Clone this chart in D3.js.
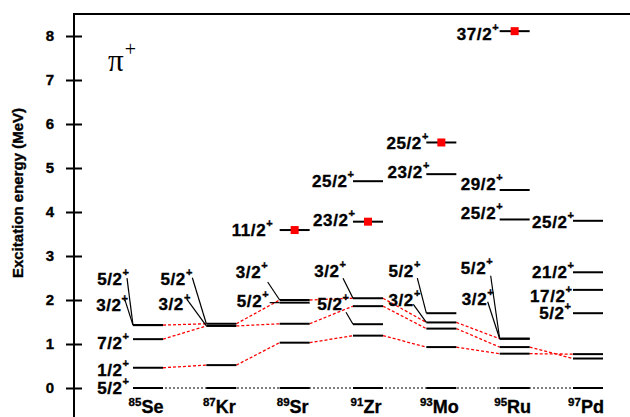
<!DOCTYPE html>
<html>
<head>
<meta charset="utf-8">
<script src="https://cdn.jsdelivr.net/npm/d3@7"></script>
<style>
  body { margin: 0; background: #fff; }
  text { font-family: 'Liberation Sans', Arial, sans-serif; font-weight: bold; stroke: #000; stroke-width: 0.35px; }
</style>
</head>
<body>
<div id="chart"></div>
<script>
// nuclei along the x axis
const nuclei = ['85Se', '87Kr', '89Sr', '91Zr', '93Mo', '95Ru', '97Pd'];
const massNumbers = ['85', '87', '89', '91', '93', '95', '97'];
const elements = ['Se', 'Kr', 'Sr', 'Zr', 'Mo', 'Ru', 'Pd'];

// levels: [excitation energy (MeV), spin label or null]
const levelsSe85 = [[0, '5/2'], [0.46, '1/2'], [1.11, '7/2'], [1.43, '3/2'], [1.43, '5/2']];
const levelsKr87 = [[0, null], [0.52, null], [1.41, '3/2'], [1.46, '5/2']];
const levelsSr89 = [[0, null], [1.03, null], [1.46, null], [1.94, '5/2'], [2.0, '3/2'], [3.59, '11/2']];
const levelsZr91 = [[0, null], [1.19, null], [1.45, '5/2'], [1.86, null], [2.04, '3/2'], [3.78, '23/2'], [4.7, '25/2']];
const levelsMo93 = [[0, null], [0.93, null], [1.35, null], [1.49, '3/2'], [1.7, '5/2'], [4.86, '23/2'], [5.58, '25/2']];
const levelsRu95 = [[0, null], [0.78, null], [0.93, null], [1.12, '3/2'], [1.12, '5/2'], [3.83, '25/2'], [4.5, '29/2'], [8.11, '37/2']];
const levelsPd97 = [[0, null], [0.67, null], [0.77, null], [1.7, '5/2'], [2.23, '17/2'], [2.63, '21/2'], [3.8, '25/2']];

// isomeric states (red squares)
const isomers = [['89Sr', 3.59], ['91Zr', 3.78], ['93Mo', 5.58], ['95Ru', 8.11]];

// systematics links (red dashed): [from, E, to, E]
const links = [
  ['85Se', 0.46, '87Kr', 0.52],
  ['85Se', 1.11, '87Kr', 1.41],
  ['85Se', 1.43, '87Kr', 1.46],
  ['87Kr', 0.52, '89Sr', 1.03],
  ['87Kr', 1.41, '89Sr', 1.46],
  ['87Kr', 1.46, '89Sr', 2.0],
  ['89Sr', 1.03, '91Zr', 1.19],
  ['89Sr', 1.46, '91Zr', 1.86],
  ['89Sr', 2.0, '91Zr', 2.04],
  ['91Zr', 1.19, '93Mo', 0.93],
  ['91Zr', 1.86, '93Mo', 1.35],
  ['91Zr', 2.04, '93Mo', 1.49],
  ['93Mo', 0.93, '95Ru', 0.78],
  ['93Mo', 1.35, '95Ru', 0.93],
  ['93Mo', 1.49, '95Ru', 1.12],
  ['95Ru', 0.78, '97Pd', 0.77],
  ['95Ru', 0.93, '97Pd', 0.67]
];

const yTicks = [0, 1, 2, 3, 4, 5, 6, 7, 8];

// label placement (px): [dx from level left end, dy from level, leader start dx, leader start dy]
const labelPlace = {
  '85Se 5/2 1.43': [-4, -40, -6, -47],
  '85Se 3/2 1.43': [-5, -14, -8, -25],
  '85Se 7/2 1.11': [-4, 10],
  '85Se 1/2 0.46': [-4, 8],
  '85Se 5/2 0': [-4, 5.5],
  '87Kr 5/2 1.46': [-14, -39, -14, -46],
  '87Kr 3/2 1.41': [-16, -16, -19, -26],
  '89Sr 3/2 2': [-12, -22, -12, -18],
  '89Sr 5/2 1.94': [-11, 4, -10, 0],
  '89Sr 11/2 3.59': [-7, 6],
  '91Zr 3/2 2.04': [-7, -21, -10, -20],
  '91Zr 5/2 1.45': [-4, -14, -7, -12],
  '91Zr 23/2 3.78': [2, 4.5],
  '91Zr 25/2 4.7': [1, 6],
  '93Mo 5/2 1.7': [-6, -36, -9, -35],
  '93Mo 3/2 1.49': [-6, -16, -13, -18],
  '93Mo 23/2 4.86': [3, 4],
  '93Mo 25/2 5.58': [2, 6.5],
  '95Ru 37/2 8.11': [-1, 9],
  '95Ru 29/2 4.5': [3, 0],
  '95Ru 25/2 3.83': [3, 0],
  '95Ru 5/2 1.12': [-7, -65, -9, -63],
  '95Ru 3/2 1.12': [-6, -34, -12, -37],
  '97Pd 25/2 3.8': [1, 7.5],
  '97Pd 21/2 2.63': [1, 6],
  '97Pd 17/2 2.23': [-1, 11.7],
  '97Pd 5/2 1.7': [-2, 6]
};

const levelLists = [levelsSe85, levelsKr87, levelsSr89, levelsZr91, levelsMo93, levelsRu95, levelsPd97];
const levels = [];
levelLists.forEach((list, i) => list.forEach(([e, spin]) => levels.push({ nuc: nuclei[i], e, spin })));

const W = 630, H = 417;
const HALF = 15;

const svg = d3.select('#chart').append('svg').attr('width', W).attr('height', H);

const x = d3.scalePoint().domain(nuclei).range([148, 588]);
const y = d3.scaleLinear().domain([0, 8]).range([388, 36]);

// frame
svg.append('rect')
  .attr('x', 74).attr('y', 14).attr('width', 700).attr('height', 500)
  .attr('fill', 'none').attr('stroke', '#000').attr('stroke-width', 2);

// y axis
const yAxis = svg.append('g')
  .attr('transform', 'translate(74,0)')
  .call(d3.axisLeft(y).tickValues(yTicks).tickSize(8).tickPadding(12).tickFormat(d3.format('d')));
yAxis.select('.domain').remove();
yAxis.selectAll('.tick line').attr('x1', 8).attr('x2', -8).attr('stroke-width', 2);
yAxis.selectAll('.tick text')
  .style('font-size', '15px')
  .style('font-family', "'Liberation Sans', Arial, sans-serif")
  .style('font-weight', 'bold')
  .attr('fill', '#000');

svg.append('text')
  .attr('transform', 'translate(23,193) rotate(-90)')
  .attr('text-anchor', 'middle')
  .style('font-size', '15px')
  .text('Excitation energy (MeV)');

// pi+ tag
const pi = svg.append('text')
  .attr('x', 108).attr('y', 71)
  .style('font-family', "'Liberation Serif', 'Times New Roman', serif")
  .style('font-weight', 'normal')
  .style('stroke-width', 0)
  .style('font-size', '31px');
pi.append('tspan').text('π');
pi.append('tspan').attr('dx', 1).attr('dy', -15).style('font-size', '20px').text('+');

// ground state reference line
svg.append('line')
  .attr('x1', x(nuclei[0]) - HALF).attr('x2', x(nuclei[nuclei.length - 1]) + HALF)
  .attr('y1', y(0)).attr('y2', y(0))
  .attr('stroke', '#000').attr('stroke-width', 1).attr('stroke-dasharray', '2,2');

// red dashed links
svg.append('g').selectAll('line')
  .data(links)
  .enter()
  .append('line')
  .attr('x1', d => x(d[0]) + HALF)
  .attr('y1', d => y(d[1]))
  .attr('x2', d => x(d[2]) - HALF)
  .attr('y2', d => y(d[3]))
  .attr('stroke', '#ff0000')
  .attr('stroke-width', 1.3)
  .attr('stroke-dasharray', '3,2');

// level lines
svg.append('g').selectAll('line')
  .data(levels)
  .enter()
  .append('line')
  .attr('x1', d => x(d.nuc) - HALF)
  .attr('x2', d => x(d.nuc) + HALF)
  .attr('y1', d => y(d.e))
  .attr('y2', d => y(d.e))
  .attr('stroke', '#000')
  .attr('stroke-width', 2);

// isomer markers
svg.append('g').selectAll('rect')
  .data(isomers)
  .enter()
  .append('rect')
  .attr('x', d => x(d[0]) - 4)
  .attr('y', d => y(d[1]) - 4)
  .attr('width', 8)
  .attr('height', 8)
  .attr('fill', '#ff0000');

// spin labels and leaders
const labelled = levels.filter(d => d.spin);
labelled.forEach(d => {
  const p = labelPlace[`${d.nuc} ${d.spin} ${d.e}`] || [0, 6];
  const lx = x(d.nuc) - HALF, ly = y(d.e);
  if (p.length > 2) {
    svg.append('line')
      .attr('x1', lx + p[2]).attr('y1', ly + p[3])
      .attr('x2', lx).attr('y2', ly)
      .attr('stroke', '#000').attr('stroke-width', 1.2);
  }
  const t = svg.append('text')
    .attr('x', lx + p[0])
    .attr('y', ly + p[1])
    .attr('text-anchor', 'end');
  t.append('tspan').style('font-size', '17px').style('letter-spacing', '0.6px').text(d.spin);
  t.append('tspan').attr('dy', -9).style('font-size', '11px').text('+');
});

// nucleus names
const names = svg.append('g').selectAll('text')
  .data(nuclei)
  .enter()
  .append('text')
  .attr('x', d => x(d) - 2)
  .attr('y', 413)
  .attr('text-anchor', 'middle');
names.append('tspan').attr('dy', -7).style('font-size', '11.5px').text((d, i) => massNumbers[i]);
names.append('tspan').attr('dy', 7).style('font-size', '18px').text((d, i) => elements[i]);
</script>
</body>
</html>
